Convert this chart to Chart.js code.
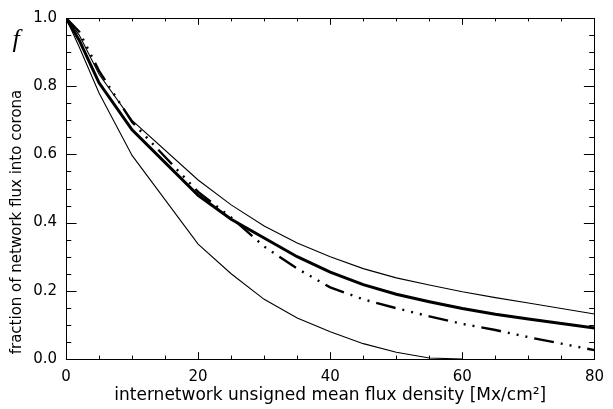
<!DOCTYPE html>
<html>
<head>
<meta charset="utf-8">
<script src="https://cdn.jsdelivr.net/npm/chart.js@4.4.1/dist/chart.umd.min.js"></script>
<style>
  html, body { margin: 0; padding: 0; background: #fff; }
  #wrap { width: 613px; height: 409px; }
</style>
</head>
<body>
<div id="wrap"><canvas id="chart-flux"></canvas></div>
<script>
// mean internetwork flux density [Mx/cm^2]
const fluxX = [0, 2, 5, 10, 20, 25, 30, 35, 40, 45, 50, 55, 60, 65, 70, 75, 80];

// fraction f, one value per fluxX entry
const upperThin = [1.0, 0.95, 0.835, 0.70, 0.525, 0.452, 0.39, 0.34, 0.30, 0.265, 0.238, 0.217, 0.197, 0.18, 0.164, 0.148, 0.132];
const thickMean = [1.0, 0.935, 0.81, 0.672, 0.48, 0.41, 0.355, 0.30, 0.255, 0.218, 0.19, 0.168, 0.148, 0.131, 0.117, 0.104, 0.091];
const dashDot   = [1.0, 0.96, 0.845, 0.695, 0.49, 0.415, 0.33, 0.265, 0.21, 0.175, 0.149, 0.125, 0.103, 0.085, 0.064, 0.045, 0.026];
const lowerThin = [1.0, 0.915, 0.78, 0.597, 0.337, 0.25, 0.175, 0.12, 0.08, 0.045, 0.02, 0.003, 0.0];

const xTicks = [0, 20, 40, 60, 80];
const yTicks = [0.0, 0.2, 0.4, 0.6, 0.8, 1.0];

const xTitle = 'internetwork unsigned mean flux density [Mx/cm\u00B2]';
const yTitle = 'fraction of network flux into corona';
const ySymbol = 'f';

const FONT = '"DejaVu Sans", sans-serif';

function pts(ys) {
    return ys.map((y, i) => ({ x: fluxX[i], y: y }));
}

// IDL style frame: box on all four sides, ticks pointing inward
const framePlugin = {
    id: 'frame',
    afterDraw(chart) {
        const { ctx, chartArea: a, scales } = chart;
        const xs = scales.x, ys = scales.y;
        ctx.save();
        ctx.strokeStyle = '#000';
        ctx.lineWidth = 1;
        ctx.strokeRect(Math.round(a.left) + 0.5, Math.round(a.top) + 0.5,
            Math.round(a.right - a.left), Math.round(a.bottom - a.top));

        const xMaj = (a.bottom - a.top) * 0.02;
        const yMaj = (a.right - a.left) * 0.02;
        ctx.beginPath();
        for (let v = 0; v <= 80; v += 5) {
            const px = Math.round(xs.getPixelForValue(v)) + 0.5;
            const len = v % 20 === 0 ? xMaj : xMaj / 2;
            ctx.moveTo(px, a.bottom); ctx.lineTo(px, a.bottom - len);
            ctx.moveTo(px, a.top); ctx.lineTo(px, a.top + len);
        }
        for (let k = 0; k <= 20; k++) {
            const v = k * 0.05;
            const py = Math.round(ys.getPixelForValue(v)) + 0.5;
            const len = k % 4 === 0 ? yMaj : yMaj / 2;
            ctx.moveTo(a.left, py); ctx.lineTo(a.left + len, py);
            ctx.moveTo(a.right, py); ctx.lineTo(a.right - len, py);
        }
        ctx.stroke();

        // y title, rotated, then the upright script f above it
        ctx.fillStyle = '#000';
        ctx.textBaseline = 'middle';
        ctx.textAlign = 'center';
        ctx.font = 'italic 26px "Liberation Serif", serif';
        ctx.fillText(ySymbol, 16, 40);
        ctx.translate(17, 0);
        ctx.rotate(-Math.PI / 2);
        ctx.font = '15px ' + FONT;
        ctx.fillText(yTitle, -222, 0);
        ctx.restore();
    }
};

const thin = { borderColor: '#000', borderWidth: 1.1, pointRadius: 0, tension: 0, fill: false };

new Chart(document.getElementById('chart-flux'), {
    type: 'line',
    data: {
        datasets: [
            Object.assign({ label: 'upper', data: pts(upperThin) }, thin),
            Object.assign({ label: 'lower', data: pts(lowerThin) }, thin),
            { label: 'dash', data: pts(dashDot), borderColor: '#000', borderWidth: 2.4,
              borderDash: [20, 7, 2, 7, 2, 7, 2, 7], pointRadius: 0, tension: 0, fill: false },
            { label: 'mean', data: pts(thickMean), borderColor: '#000', borderWidth: 3,
              pointRadius: 0, tension: 0, fill: false }
        ]
    },
    options: {
        responsive: true,
        maintainAspectRatio: false,
        animation: false,
        devicePixelRatio: 1,
        layout: { padding: { top: 9, right: 12, left: 0, bottom: 0 } },
        plugins: { legend: { display: false }, tooltip: { enabled: false } },
        scales: {
            x: {
                type: 'linear', min: 0, max: 80,
                afterFit(s) { s.height = 50; },
                afterBuildTicks(s) { s.ticks = xTicks.map(v => ({ value: v })); },
                grid: { display: false, drawTicks: false },
                border: { display: false },
                ticks: { color: '#000', font: { family: FONT, size: 15 }, padding: 9, maxRotation: 0 },
                title: { display: true, text: xTitle, color: '#000',
                         font: { family: FONT, size: 17 }, padding: { top: 0, bottom: 3 } }
            },
            y: {
                type: 'linear', min: 0, max: 1,
                afterFit(s) { s.width = 66; },
                afterBuildTicks(s) { s.ticks = yTicks.map(v => ({ value: v })); },
                grid: { display: false, drawTicks: false },
                border: { display: false },
                ticks: { color: '#000', font: { family: FONT, size: 15 }, padding: 9,
                         callback: v => v.toFixed(1) }
            }
        }
    },
    plugins: [framePlugin]
});
</script>
</body>
</html>
